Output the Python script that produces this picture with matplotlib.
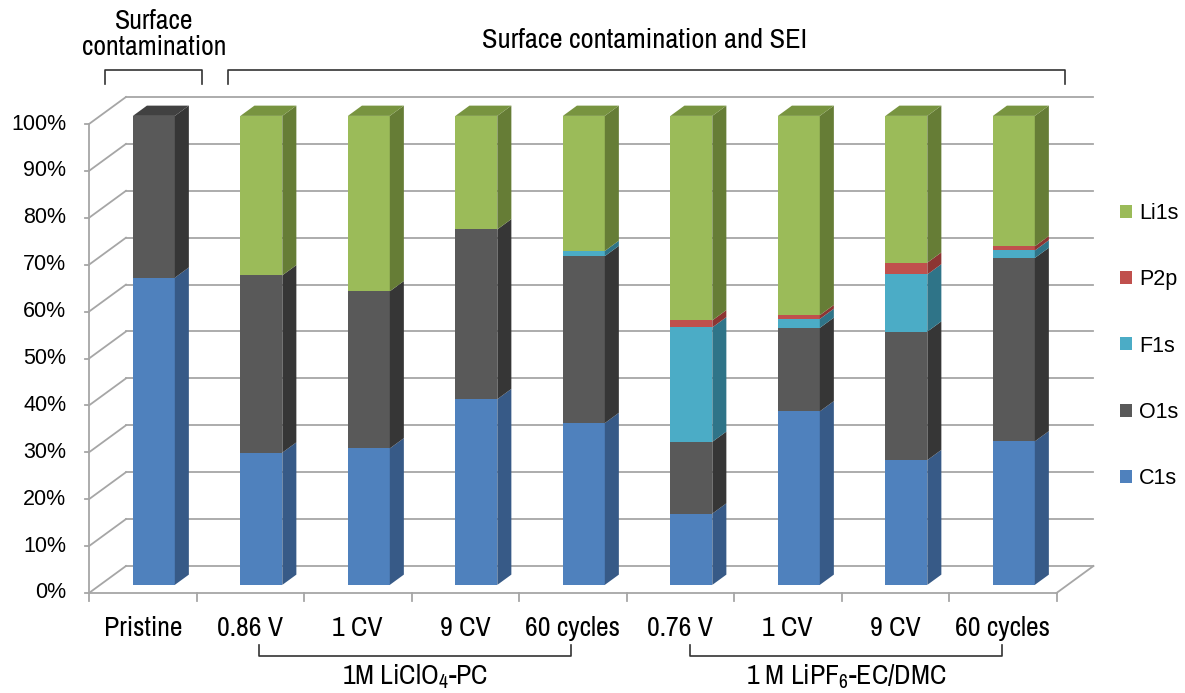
import numpy as np
import matplotlib.pyplot as plt
from matplotlib.patches import Polygon, Patch

plt.rcParams['font.family'] = ['Liberation Sans', 'DejaVu Sans']
plt.rcParams['mathtext.fontset'] = 'custom'
plt.rcParams['mathtext.rm'] = 'Archivo Narrow'
plt.rcParams['mathtext.default'] = 'regular'
NARROW = ['Archivo Narrow', 'Liberation Sans']

categories = ['Pristine', '0.86 V', '1 CV', '9 CV', '60 cycles',
              '0.76 V', '1 CV', '9 CV', '60 cycles']
series = ['C1s', 'O1s', 'F1s', 'P2p', 'Li1s']
c1s = [65.5, 28.2, 29.1, 39.6, 34.5, 15.2, 37.0, 26.6, 30.6]
o1s = [34.5, 37.8, 33.5, 36.2, 35.6, 15.3, 17.8, 27.4, 39.1]
f1s = [0.0, 0.0, 0.0, 0.0, 1.1, 24.4, 1.9, 12.2, 1.6]
p2p = [0.0, 0.0, 0.0, 0.0, 0.0, 1.5, 0.8, 2.5, 0.9]
li1s = [0.0, 34.0, 37.4, 24.2, 28.8, 43.6, 42.5, 31.3, 27.8]
yticks = np.arange(0, 101, 10)

front = ['#4F81BD', '#595959', '#4BACC6', '#C0504D', '#9BBB59']
side = ['#375A87', '#363636', '#2F7488', '#8C3533', '#667D36']
top = ['#4676AD', '#414141', '#3F97AE', '#A84340', '#789440']

W, H = 1185, 693
fig = plt.figure(figsize=(W / 100, H / 100), dpi=100)
ax = fig.add_axes([0, 0, 1, 1])
ax.axis('off')
# pixel mapping: x=0 at px 89, 107.5 px per category; y=0 at py 593, 4.69 px per %
ax.set_xlim(-89 / 107.5, (W - 89) / 107.5)
ax.set_ylim((593 - H) / 4.69, 593 / 4.69)

n = len(categories)
DX, DY = 0.344, 5.76          # full depth of the floor
fx, fy = 0.3 * DX, 0.3 * DY   # bar front face position in depth
bx, by = 0.38 * DX, 0.38 * DY  # bar depth
bw = 0.39
grid = '#A6A6A6'

# walls and floor
for t in yticks:
    ax.plot([0, DX], [t, t + DY], color=grid, lw=1.3, zorder=1)
    ax.plot([DX, n + DX], [t + DY, t + DY], color=grid, lw=1.3, zorder=1)
    ax.plot([-0.04, 0], [t, t], color=grid, lw=1.3, zorder=1)
    ax.text(-0.21, t, f'{t}%', ha='right', va='center', fontsize=15.5)
ax.plot([0, 0], [0, 100], color=grid, lw=1.3, zorder=1)
ax.plot([0, n], [0, 0], color=grid, lw=1.3, zorder=1)
ax.plot([n, n + DX], [0, DY], color=grid, lw=1.3, zorder=1)
for i in range(n + 1):
    ax.plot([i, i], [0, -1.6], color=grid, lw=1.3, zorder=1)

# stacked 3d-looking bars
data = [c1s, o1s, f1s, p2p, li1s]
x = np.arange(n) + 0.5 + fx
bottom = np.full(n, fy)
totals = np.sum(data, axis=0) + fy
for k, vals in enumerate(data):
    vals = np.array(vals)
    ax.bar(x, vals, bw, bottom=bottom, color=front[k], lw=0, zorder=3)
    for i in range(n):
        if vals[i] <= 0:
            continue
        x1 = x[i] + bw / 2
        y0, y1 = bottom[i], bottom[i] + vals[i]
        ax.add_patch(Polygon([(x1, y0), (x1 + bx, y0 + by), (x1 + bx, y1 + by), (x1, y1)],
                             closed=True, fc=side[k], ec='none', zorder=3))
        if abs(y1 - totals[i]) < 1e-6:
            x0 = x[i] - bw / 2
            ax.add_patch(Polygon([(x0, y1), (x0 + bx, y1 + by), (x1 + bx, y1 + by), (x1, y1)],
                                 closed=True, fc=top[k], ec='none', zorder=3))
    bottom = bottom + vals

# category labels
for i, c in enumerate(categories):
    ax.text(i + 0.5, -7.5, c, ha='center', va='center', fontsize=20, family=NARROW)

# bottom group brackets
for (a, b, lab) in [(1.58, 4.48, r'1M LiClO$_4$-PC'),
                    (5.59, 8.49, r'1 M LiPF$_6$-EC/DMC')]:
    ax.plot([a, a, b, b], [-11.0, -13.4, -13.4, -11.0], color='#333333', lw=1.2)
    ax.text((a + b) / 2, -17.9, lab, ha='center', va='center', fontsize=20, family=NARROW)

# top group brackets
for (a, b) in [(0.15, 1.05), (1.29, 9.08)]:
    ax.plot([a, a, b, b], [108.6, 111.6, 111.6, 108.6], color='#333333', lw=1.2)
ax.text(0.61, 119.0, 'Surface\ncontamination', ha='center', va='center', fontsize=20,
        family=NARROW, linespacing=1.05)
ax.text(5.17, 117.9, 'Surface contamination and SEI', ha='center', va='center',
        fontsize=20.5, family=NARROW)

handles = [Patch(fc=front[k], ec='none', label=series[k]) for k in range(len(series))][::-1]
ax.legend(handles=handles, loc='center left', bbox_to_anchor=(1120 / W, 1 - 346 / H),
          bbox_transform=fig.transFigure, frameon=False, fontsize=15.5,
          handlelength=0.55, handleheight=0.55, handletextpad=0.35,
          labelspacing=2.1, borderpad=0, borderaxespad=0)

fig.savefig('out.png', dpi=100)
